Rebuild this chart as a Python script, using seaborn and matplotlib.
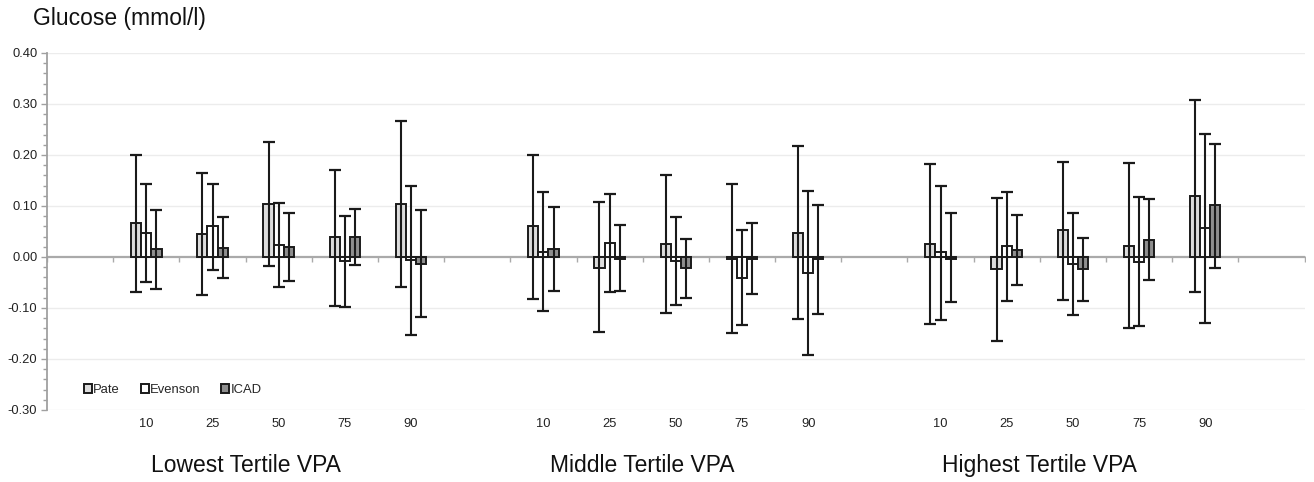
import numpy as np
import pandas as pd
import matplotlib
matplotlib.use("Agg")
import matplotlib.pyplot as plt
from matplotlib.ticker import MultipleLocator
import seaborn as sns

# ---- data ----
tertiles = ["Lowest Tertile VPA", "Middle Tertile VPA", "Highest Tertile VPA"]
percentiles = ["10", "25", "50", "75", "90"]
methods = ["Pate", "Evenson", "ICAD"]

pate_mean = [0.066, 0.045, 0.103, 0.039, 0.104,
             0.060, -0.021, 0.026, -0.003, 0.047,
             0.025, -0.024, 0.052, 0.021, 0.120]
pate_upper = [0.199, 0.164, 0.225, 0.171, 0.267,
              0.199, 0.107, 0.161, 0.143, 0.217,
              0.183, 0.116, 0.186, 0.185, 0.308]
pate_lower = [-0.068, -0.074, -0.018, -0.097, -0.058,
              -0.082, -0.147, -0.109, -0.149, -0.122,
              -0.132, -0.164, -0.085, -0.140, -0.069]

evenson_mean = [0.047, 0.060, 0.023, -0.008, -0.005,
                0.010, 0.027, -0.007, -0.041, -0.032,
                0.009, 0.021, -0.014, -0.010, 0.056]
evenson_upper = [0.144, 0.144, 0.106, 0.081, 0.140,
                 0.127, 0.124, 0.079, 0.052, 0.129,
                 0.140, 0.127, 0.086, 0.117, 0.242]
evenson_lower = [-0.050, -0.025, -0.059, -0.098, -0.153,
                 -0.105, -0.069, -0.094, -0.133, -0.192,
                 -0.123, -0.086, -0.113, -0.136, -0.130]

icad_mean = [0.016, 0.018, 0.020, 0.040, -0.013,
             0.016, -0.003, -0.022, -0.003, -0.003,
             -0.003, 0.014, -0.024, 0.034, 0.101]
icad_upper = [0.092, 0.078, 0.087, 0.094, 0.093,
              0.098, 0.062, 0.035, 0.067, 0.102,
              0.087, 0.082, 0.037, 0.113, 0.222]
icad_lower = [-0.062, -0.042, -0.047, -0.015, -0.118,
              -0.067, -0.067, -0.080, -0.073, -0.111,
              -0.089, -0.054, -0.087, -0.046, -0.021]

y_ticks = [0.40, 0.30, 0.20, 0.10, 0.00, -0.10, -0.20, -0.30]

# ---- build long table ----
slot_order = []
slot_labels = []
for t_i, t in enumerate(tertiles):
    slot_order.append(f"blank{t_i}")
    slot_labels.append("")
    for p in percentiles:
        slot_order.append(f"{t_i}_{p}")
        slot_labels.append(p)
slot_order.append("blank_end")
slot_labels.append("")

series = {
    "Pate": (pate_mean, pate_lower, pate_upper),
    "Evenson": (evenson_mean, evenson_lower, evenson_upper),
    "ICAD": (icad_mean, icad_lower, icad_upper),
}
rows = []
for m in methods:
    mean, lo, hi = series[m]
    k = 0
    for t_i in range(len(tertiles)):
        for p in percentiles:
            rows.append(dict(slot=f"{t_i}_{p}", method=m, value=mean[k],
                             lo=lo[k], hi=hi[k]))
            k += 1
df = pd.DataFrame(rows)

# ---- style ----
sns.set_theme(style="white")
plt.rcParams["font.family"] = ["Liberation Sans", "DejaVu Sans"]

fig = plt.figure(figsize=(13.14, 4.82), dpi=100)
ax = fig.add_axes([0.0358, 0.1494, 0.957, 0.7407])

palette = {"Pate": "#dcdcdc", "Evenson": "#ffffff", "ICAD": "#8e8e8e"}
sns.barplot(data=df, x="slot", y="value", hue="method", order=slot_order,
            hue_order=methods, palette=palette, width=0.46, errorbar=None,
            edgecolor="#1a1a1a", linewidth=1.4, saturation=1, ax=ax, zorder=3)

# error bars at bar centres
for m, cont in zip(methods, ax.containers):
    sub = df[df.method == m].set_index("slot")
    xs, ys, lo_e, hi_e = [], [], [], []
    for patch in cont.patches:
        cx = patch.get_x() + patch.get_width() / 2
        slot = slot_order[int(round(cx))]
        if slot not in sub.index:
            continue
        r = sub.loc[slot]
        xs.append(cx)
        ys.append(r.value)
        lo_e.append(r.value - r.lo)
        hi_e.append(r.hi - r.value)
    ax.errorbar(xs, ys, yerr=[lo_e, hi_e], fmt="none", ecolor="#1a1a1a",
                elinewidth=1.5, capsize=4.6, capthick=1.6, zorder=4)

# axes cosmetics
ax.set_xlim(-0.5, len(slot_order) - 0.5)
ax.set_ylim(-0.30, 0.40)
ax.set_yticks(y_ticks)
ax.set_yticklabels([f"{v:.2f}" for v in y_ticks], fontsize=9.3, color="#222222")
ax.yaxis.set_minor_locator(MultipleLocator(0.02))
ax.tick_params(axis="y", which="major", left=True, length=4, width=1,
               color="#a0a0a0", pad=3)
ax.tick_params(axis="y", which="minor", left=True, length=3, width=1,
               color="#a0a0a0")
ax.set_xticks(range(len(slot_order)))
ax.set_xticklabels(slot_labels, fontsize=9.3, color="#222222")
ax.tick_params(axis="x", length=0, pad=6)
ax.set_xlabel("")
ax.set_ylabel("")

for side in ["top", "right", "bottom"]:
    ax.spines[side].set_visible(False)
ax.spines["left"].set_color("#a0a0a0")
ax.spines["left"].set_linewidth(1.3)

for v in y_ticks:
    if v != 0:
        ax.axhline(v, color="#ececec", lw=1.0, zorder=0)
ax.axhline(0, color="#aaaaaa", lw=1.6, zorder=2)
bounds = np.arange(-0.5, len(slot_order), 1.0)
ax.plot(bounds, np.full_like(bounds, -0.004), linestyle="none", marker="|",
        markersize=4, color="#aaaaaa", zorder=2)

# group labels
for t_i, t in enumerate(tertiles):
    ax.annotate(t, xy=(t_i * 6 + 2.5, 0), xycoords=("data", "axes fraction"),
                xytext=(0, -40), textcoords="offset points",
                ha="center", va="center", fontsize=16.5, color="#111111")

# title
fig.text(0.025, 0.962, "Glucose (mmol/l)", fontsize=16.5, color="#111111",
         ha="left", va="center")

# legend
handles, labels = ax.get_legend_handles_labels()
ax.legend(handles, labels, loc="center left", bbox_to_anchor=(0.020, 0.056),
          ncol=3, frameon=False, fontsize=9.4, handlelength=0.6,
          handleheight=0.6, handletextpad=0.1, columnspacing=1.6)

fig.savefig("out.png", dpi=100)
